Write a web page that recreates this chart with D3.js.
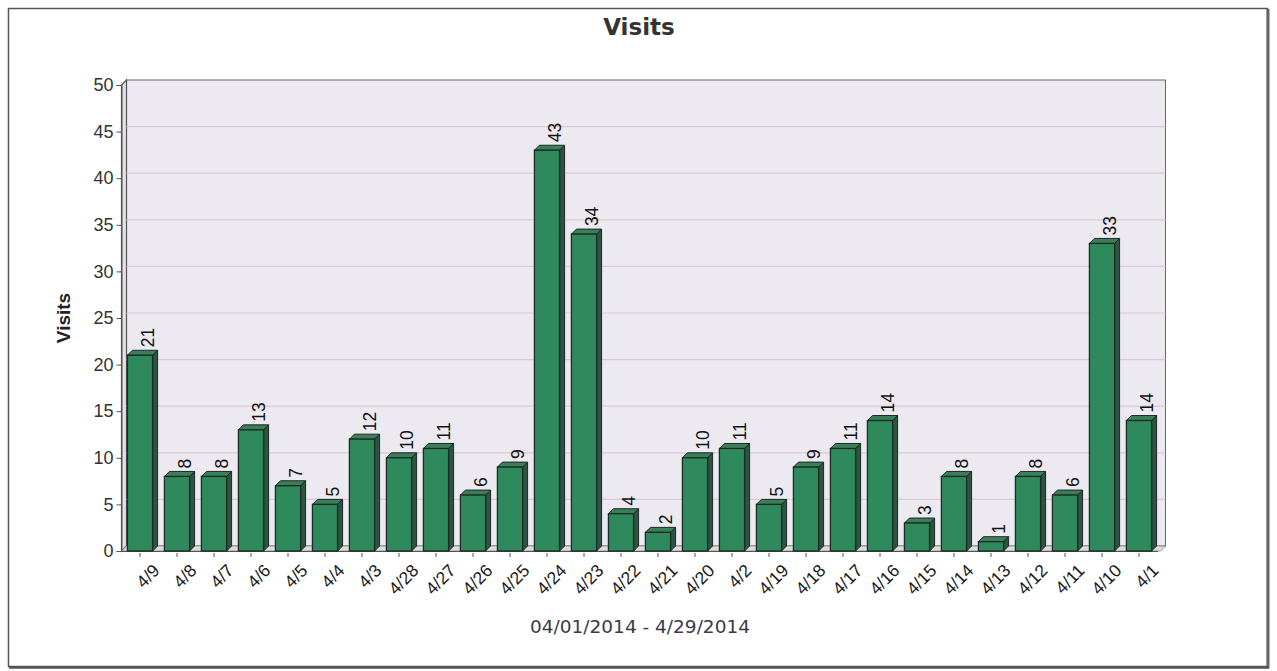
<!DOCTYPE html>
<html><head><meta charset="utf-8">
<script src="https://cdn.jsdelivr.net/npm/d3@7"></script>
<style>body{margin:0;background:#fff}svg{display:block}</style>
</head><body>
<svg id="c" width="1277" height="671"></svg>
<script>
const categories = ["4/9","4/8","4/7","4/6","4/5","4/4","4/3","4/28","4/27","4/26","4/25","4/24","4/23","4/22","4/21","4/20","4/2","4/19","4/18","4/17","4/16","4/15","4/14","4/13","4/12","4/11","4/10","4/1"];
const visits = [21,8,8,13,7,5,12,10,11,6,9,43,34,4,2,10,11,5,9,11,14,3,8,1,8,6,33,14];
const yTicks = [0,5,10,15,20,25,30,35,40,45,50];
const title = "Visits";
const yTitle = "Visits";
const footer = "04/01/2014 - 4/29/2014";

const svg = d3.select("#c");
const L = 121.5, R = 1157.5, T = 85, B = 551;
const dx = 5, dy = -5;
const x = d3.scaleBand().domain(categories).range([L, R]).paddingInner(0.32).paddingOuter(0.16);
const y = d3.scaleLinear().domain([0, 50]).range([B, T]);
const ARIAL = "Arial, 'Liberation Sans', sans-serif";

// frame
svg.append("rect").attr("x",8.5).attr("y",8.5).attr("width",1259).attr("height",658)
  .attr("fill","#fff").attr("stroke","#555").attr("stroke-width",1.5);
svg.append("line").attr("x1",1268).attr("x2",1268).attr("y1",9).attr("y2",668).attr("stroke","#666").attr("stroke-width",3);
svg.append("line").attr("x1",9).attr("x2",1269).attr("y1",667.5).attr("y2",667.5).attr("stroke","#555").attr("stroke-width",2.5);

// back wall
svg.append("rect").attr("x",L+dx).attr("y",T+dy).attr("width",R-L+3).attr("height",B-T)
  .attr("fill","#ece9f1").attr("stroke","#666").attr("stroke-width",1);
// left wall
svg.append("path").attr("d",`M${L},${T} L${L+dx},${T+dy} L${L+dx},${B+dy} L${L},${B} Z`)
  .attr("fill","#e4e2e8").attr("stroke","#555").attr("stroke-width",1.2);
// floor
svg.append("path").attr("d",`M${L},${B} L${L+dx},${B+dy} L${R+3+dx},${B+dy} L${R+3},${B} Z`)
  .attr("fill","#dcdcdc").attr("stroke","#888").attr("stroke-width",0.8);

// gridlines
svg.append("g").selectAll("line").data(yTicks.filter(d=>d>0&&d<50)).join("line")
  .attr("x1",L+dx).attr("x2",R+3+dx).attr("y1",d=>y(d)+dy).attr("y2",d=>y(d)+dy)
  .attr("stroke","#d9c9d2").attr("stroke-width",1.2);

// y axis
const ya = d3.axisLeft(y).tickValues(yTicks).tickSize(5).tickPadding(3);
const gy = svg.append("g").attr("transform",`translate(${L},0)`).call(ya);
gy.select(".domain").attr("stroke","#555");
gy.selectAll(".tick line").attr("stroke","#555");
gy.selectAll("text").attr("font-family",ARIAL).attr("font-size",18).attr("fill","#333");

// x axis
const xa = d3.axisBottom(x).tickSize(6).tickPadding(4).tickSizeOuter(0);
const gx = svg.append("g").attr("transform",`translate(0,${B})`).call(xa);
gx.select(".domain").attr("stroke","#555");
gx.selectAll(".tick line").attr("stroke","#555").attr("y1",2);
gx.selectAll("text").attr("font-family",ARIAL).attr("font-size",17.5).attr("fill","#1a1a1a")
  .attr("text-anchor","end").attr("dy","0.7em").attr("transform","translate(5,5) rotate(-45)");

// bars
const bars = svg.append("g").selectAll("g").data(categories.map((c,i)=>({c,v:visits[i]}))).join("g");
const bw = x.bandwidth();
bars.append("path").attr("d",d=>{const x0=x(d.c)+bw, y0=y(d.v);
  return `M${x0},${y0} L${x0+dx},${y0+dy} L${x0+dx},${B+dy} L${x0},${B} Z`;})
  .attr("fill","#2c5443").attr("stroke","#1e2a24").attr("stroke-width",1);
bars.append("path").attr("d",d=>{const x0=x(d.c), y0=y(d.v);
  return `M${x0},${y0} L${x0+dx},${y0+dy} L${x0+bw+dx},${y0+dy} L${x0+bw},${y0} Z`;})
  .attr("fill","#3a7e5a").attr("stroke","#1e2a24").attr("stroke-width",1);
bars.append("rect").attr("x",d=>x(d.c)).attr("y",d=>y(d.v)).attr("width",bw).attr("height",d=>B-y(d.v))
  .attr("fill","#2e8a5c").attr("stroke","#1e2a24").attr("stroke-width",1.3);

// value labels
bars.append("text").attr("transform",d=>`translate(${x(d.c)+bw/2+8},${y(d.v)+dy-3}) rotate(-90)`)
  .attr("dy","0.35em").attr("font-family",ARIAL).attr("font-size",17.5)
  .attr("fill","#111").text(d=>d.v);

// titles
svg.append("text").attr("x",639).attr("y",35).attr("text-anchor","middle")
  .attr("font-family","'DejaVu Sans', Verdana, sans-serif").attr("font-weight","bold").attr("font-size",23)
  .attr("fill","#333").text(title);
svg.append("text").attr("transform","translate(70,318) rotate(-90)").attr("text-anchor","middle")
  .attr("font-family",ARIAL).attr("font-weight","bold").attr("font-size",19)
  .attr("fill","#222").text(yTitle);
svg.append("text").attr("x",640).attr("y",633).attr("text-anchor","middle")
  .attr("font-family","'DejaVu Sans', Verdana, sans-serif").attr("font-size",18.5)
  .attr("fill","#3a3a4a").text(footer);
</script>
</body></html>
